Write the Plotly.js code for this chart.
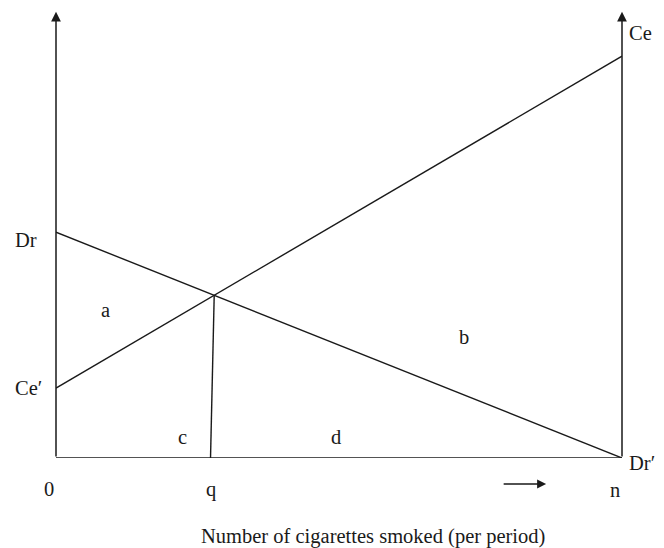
<!DOCTYPE html>
<html>
<head>
<meta charset="utf-8">
<script src="https://cdn.plot.ly/plotly-3.0.1.min.js"></script>
<style>html,body{margin:0;padding:0;background:#fff}#chart{width:664px;height:548px}</style>
</head>
<body>
<div id="chart"></div>
<script>
// Diagram data (x: 0..n = 0..10, y: 0..10)
const xEnds = [0, 10];
const drY = [5.04, 0];        // Dr -> Dr'
const ceY = [1.56, 8.97];     // Ce' -> Ce
const qBottomX = 2.73;        // foot of vertical at q
const axisTop = 9.96;
const tickLabels = ['0', 'q', 'n'];
const tickX = [0, qBottomX, 10];
const areaLabels = ['a', 'b', 'c', 'd'];

// intersection of Dr and Ce lines
const sDr = (drY[1] - drY[0]) / (xEnds[1] - xEnds[0]);
const sCe = (ceY[1] - ceY[0]) / (xEnds[1] - xEnds[0]);
const xi = (ceY[0] - drY[0]) / (sDr - sCe);
const yi = drY[0] + sDr * xi;

const lineStyle = {color: '#1a1a1a', width: 1.4};
const traces = [
  {x: xEnds, y: drY, mode: 'lines', line: lineStyle, cliponaxis: false, hoverinfo: 'skip'},
  {x: xEnds, y: ceY, mode: 'lines', line: lineStyle, cliponaxis: false, hoverinfo: 'skip'},
  {x: [xi, qBottomX], y: [yi, 0], mode: 'lines', line: lineStyle, cliponaxis: false, hoverinfo: 'skip'},
  {x: xEnds, y: [0, 0], mode: 'lines', line: {color: '#1a1a1a', width: 1.6}, cliponaxis: false, hoverinfo: 'skip'}
];

const F = {family: 'Liberation Serif, Times New Roman, serif', size: 20.5, color: '#1a1a1a'};
// labels positioned in paper units (data/10) so they may lie outside the plot area
const txt = (t, x, y) => ({text: t, x: x / 10, y: y / 10, xref: 'paper', yref: 'paper',
  xanchor: 'center', yanchor: 'middle', showarrow: false, font: F});

const labelPos = {
  a: [0.87, 3.30], b: [7.21, 2.70], c: [2.23, 0.47], d: [4.95, 0.47]
};

const annotations = [
  // vertical axes with arrowheads
  {x: 0, y: axisTop, ax: 0, ay: 0, xref: 'x', yref: 'y', axref: 'x', ayref: 'y', text: '', showarrow: true,
   arrowhead: 2, arrowsize: 1.3, arrowwidth: 1.5, arrowcolor: '#1a1a1a'},
  {x: 10, y: axisTop, ax: 10, ay: 0, xref: 'x', yref: 'y', axref: 'x', ayref: 'y', text: '', showarrow: true,
   arrowhead: 2, arrowsize: 1.3, arrowwidth: 1.5, arrowcolor: '#1a1a1a'},
  // small direction arrow
  {x: 0.866, y: -0.058, ax: -44, ay: 0, xref: 'paper', yref: 'paper', text: '', showarrow: true,
   arrowhead: 2, arrowsize: 1.2, arrowwidth: 1.5, arrowcolor: '#1a1a1a'},
  txt('Dr', -0.53, 4.87),
  txt('Ce\u2032', -0.49, 1.56),
  txt('Ce', 10.32, 9.49),
  txt('Dr\u2032', 10.35, -0.11),
  txt(tickLabels[0], tickX[0] - 0.12, -0.69),
  txt(tickLabels[1], tickX[1], -0.71),
  txt(tickLabels[2], tickX[2] - 0.12, -0.71),
  txt('Number of cigarettes smoked (per period)', 5.60, -1.76)
];
areaLabels.forEach(l => annotations.push(txt(l, labelPos[l][0], labelPos[l][1])));

const layout = {
  width: 664, height: 548,
  margin: {l: 56, r: 42, t: 10, b: 90},
  paper_bgcolor: '#ffffff', plot_bgcolor: '#ffffff',
  showlegend: false,
  xaxis: {range: [0, 10], visible: false, fixedrange: true},
  yaxis: {range: [0, 10], visible: false, fixedrange: true},
  annotations: annotations
};

Plotly.newPlot('chart', traces, layout, {displayModeBar: false, staticPlot: true});
</script>
</body>
</html>
